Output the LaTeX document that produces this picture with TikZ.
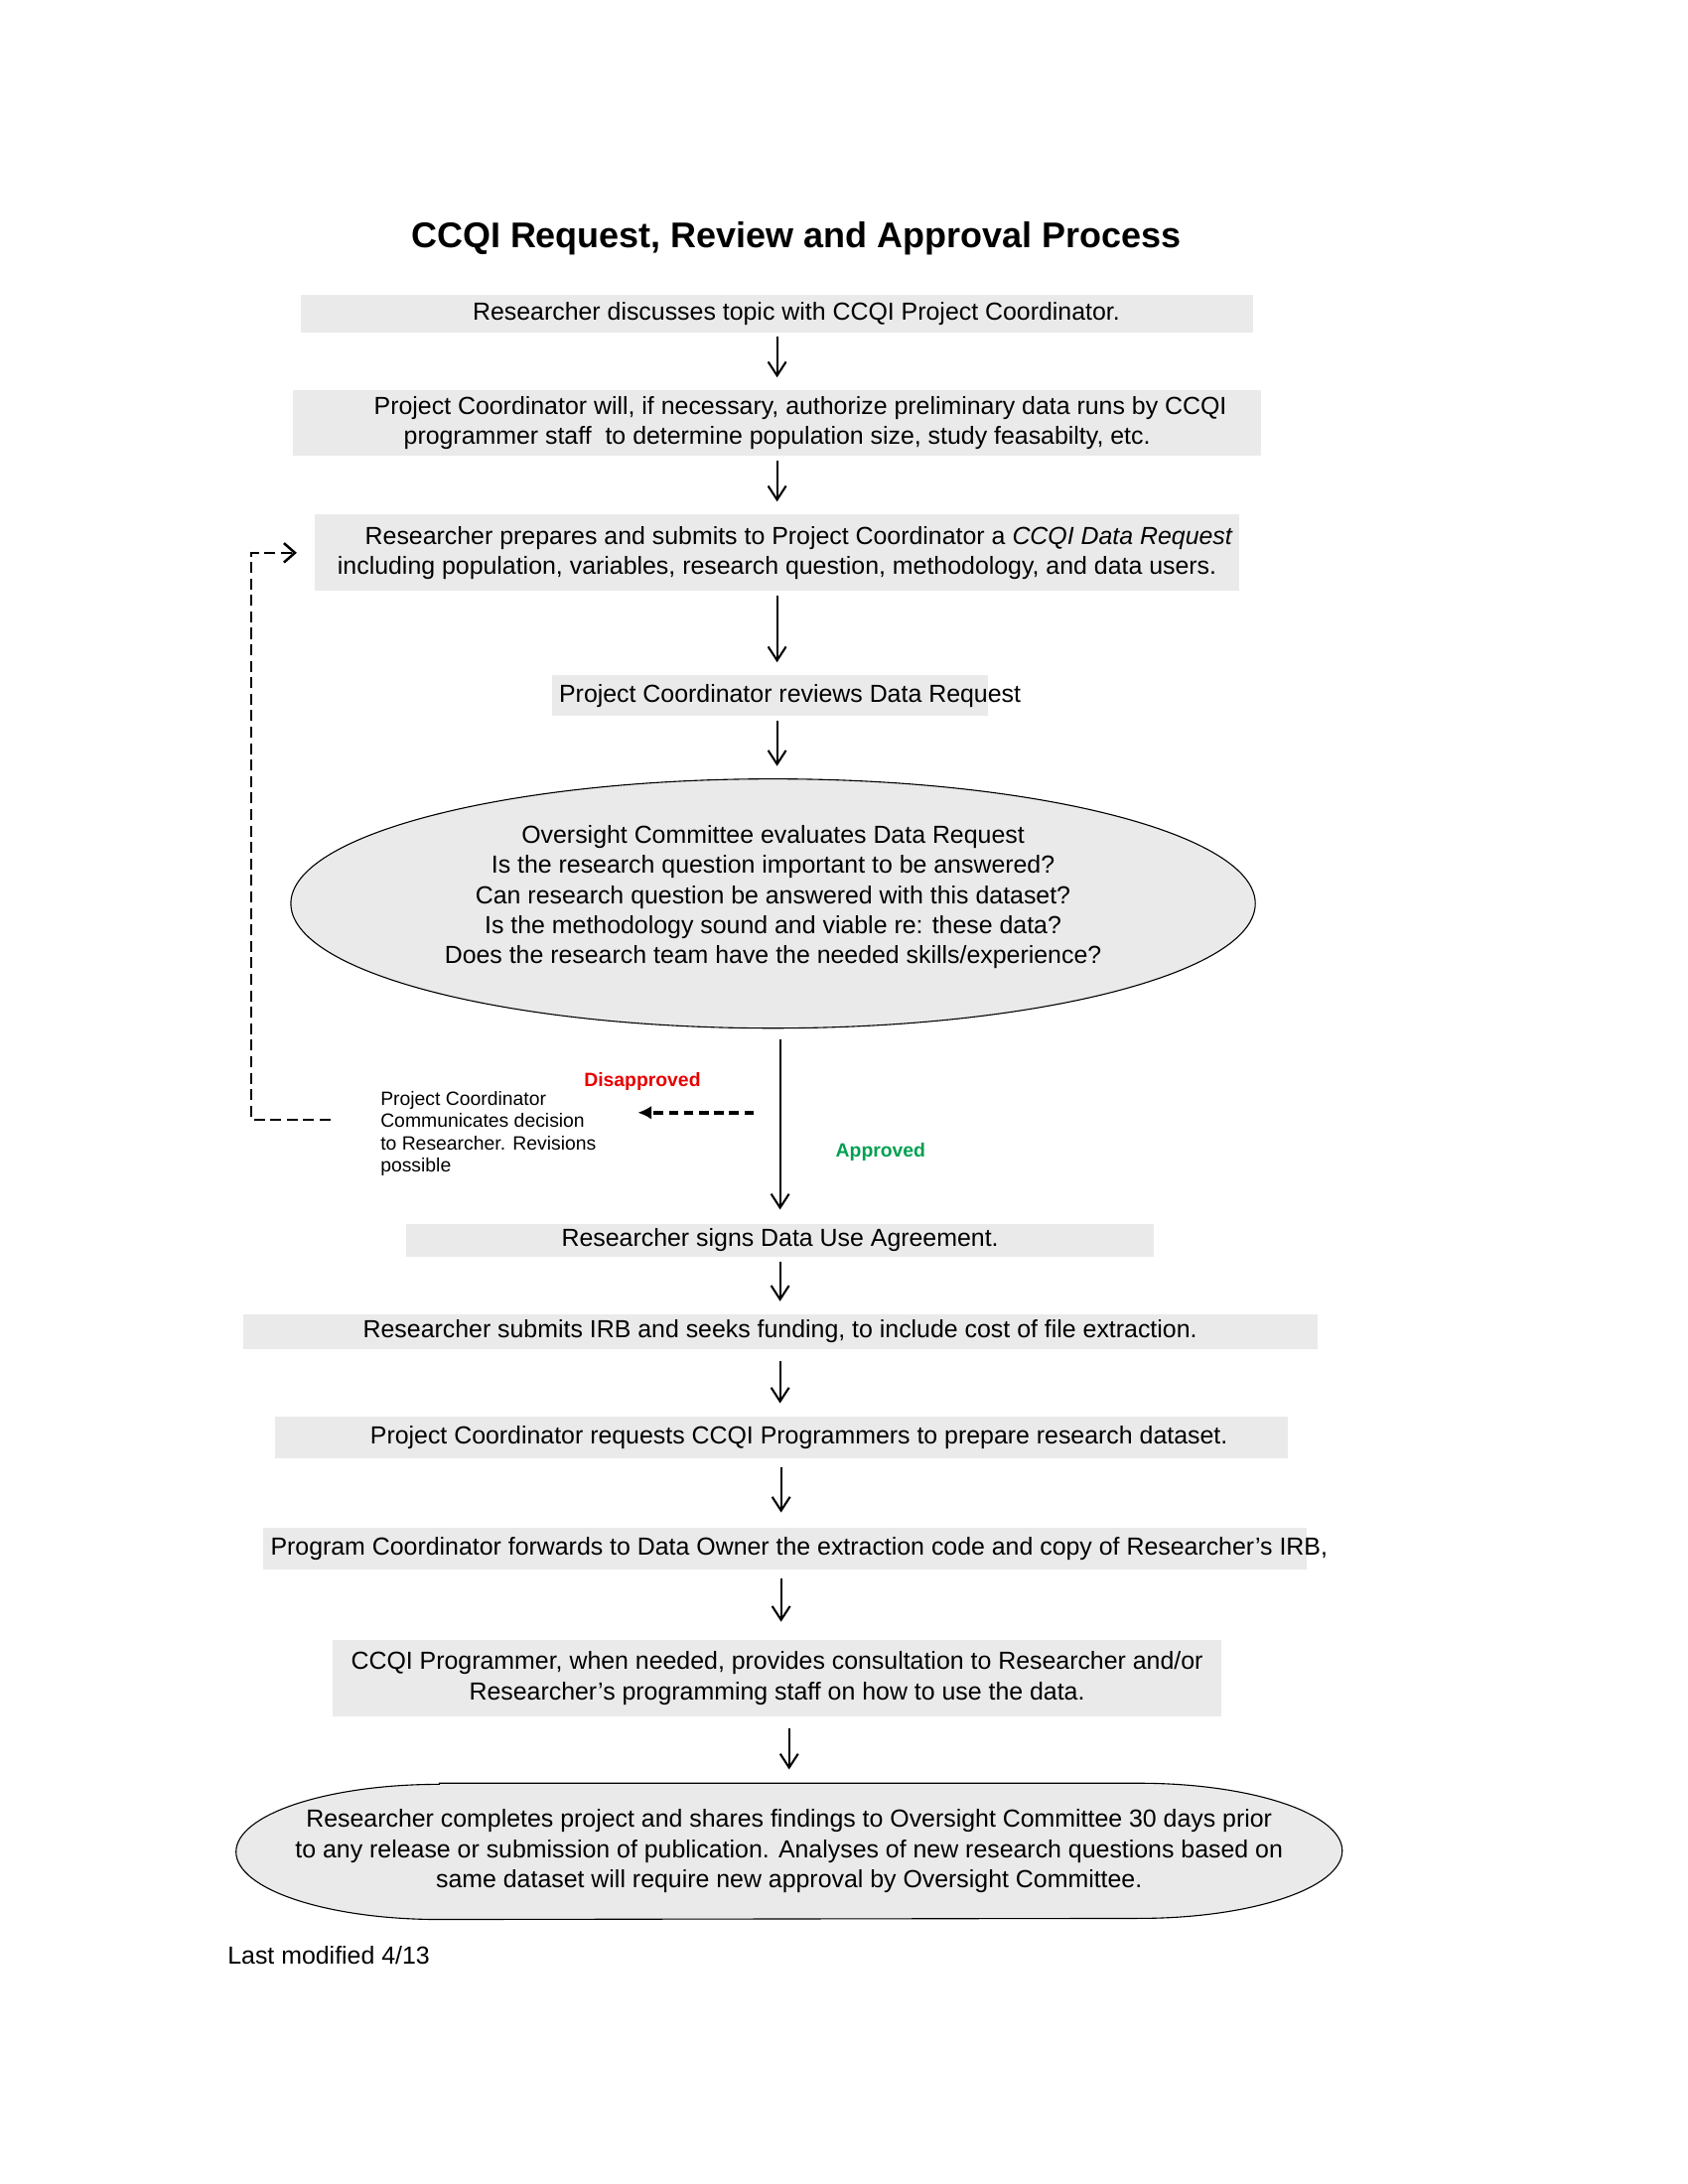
\documentclass[tikz,border=0pt]{standalone}
\usepackage{fontspec}
\setmainfont{Liberation Sans}
\usepackage{xcolor}
\usetikzlibrary{shapes.geometric, arrows.meta, backgrounds}
\definecolor{boxgray}{RGB}{234,234,234}
\definecolor{nored}{RGB}{230,0,0}
\definecolor{okgreen}{RGB}{0,160,80}
\tikzset{
  stepbox/.style={fill=boxgray, inner sep=0pt, align=center, font=\fontsize{9}{11}\selectfont},
  ovalbox/.style={ellipse, draw, line width=0.4pt, fill=boxgray, inner sep=0pt, font=\fontsize{9}{11}\selectfont},
  flow/.style={line width=0.75pt, -{Straight Barb[length=5pt,width=6.5pt]}, shorten <=1.5pt, shorten >=4.5pt},
  back/.style={line width=0.9pt, dash pattern=on 4pt off 2pt}
}
% text of an oval, kept out of the size of the shape
\newcommand{\ovaltext}[2][0pt]{\makebox[0pt]{\smash{\raisebox{#1}{\begin{tabular}{@{}c@{}}#2\end{tabular}}}}}
\begin{document}
\begin{tikzpicture}[x=0.012859cm, y=-0.012859cm]
    \useasboundingbox (0,0) rectangle (1679,2173);
    \node[font=\fontsize{13}{15}\selectfont\bfseries] (title) at (792,237) {CCQI Request, Review and Approval Process};
    % steps
    \node[stepbox, minimum width=12.19cm, minimum height=0.48cm] (b1) at (773,312) {\hspace*{14pt}Researcher discusses topic with CCQI Project Coordinator.};
    \node[stepbox, minimum width=12.39cm, minimum height=0.84cm] (b2) at (773,421) {\hspace*{17pt}Project Coordinator will, if necessary, authorize preliminary data runs by CCQI\\programmer staff\ \ to determine population size, study feasabilty, etc.};
    \node[stepbox, minimum width=11.82cm, minimum height=0.98cm] (b3) at (773,550) {\hspace*{16pt}Researcher prepares and submits to Project Coordinator a \textit{CCQI Data Request}\\including population, variables, research question, methodology, and data users.};
    \node[stepbox, minimum height=0.52cm] (b4) at (766,692) {\makebox[5.58cm][l]{\hspace*{2.6pt}Project Coordinator reviews Data Request}};
    \node[ovalbox, minimum width=12.34cm, minimum height=3.19cm] (e1) at (769,899) {\ovaltext{Oversight Committee evaluates Data Request\\Is the research question important to be answered?\\Can research question be answered with this dataset?\\Is the methodology sound and viable re: these data?\\Does the research team have the needed skills/experience?}};
    \node[stepbox, minimum width=9.56cm, minimum height=0.42cm] (b6) at (776,1234) {Researcher signs Data Use Agreement.};
    \node[stepbox, minimum width=13.75cm, minimum height=0.45cm] (b7) at (776,1325) {Researcher submits IRB and seeks funding, to include cost of file extraction.};
    \node[stepbox, minimum width=12.96cm, minimum height=0.54cm] (b8) at (777,1430) {\hspace*{13pt}Project Coordinator requests CCQI Programmers to prepare research dataset.};
    \node[stepbox, minimum height=0.53cm] (b9) at (781,1541) {\makebox[13.35cm][l]{\hspace*{2.6pt}Program Coordinator forwards to Data Owner the extraction code and copy of Researcher’s IRB,}};
    \node[stepbox, minimum width=11.37cm, minimum height=0.98cm] (b10) at (773,1670) {CCQI Programmer, when needed, provides consultation to Researcher and/or\\Researcher’s programming staff on how to use the data.};
    \node[stepbox, fill=none, minimum width=14.14cm, minimum height=1.73cm] (e2) at (785,1842) {Researcher completes project and shares findings to Oversight Committee 30 days prior\\to any release or submission of publication. Analyses of new research questions based on\\same dataset will require new approval by Oversight Committee.};
    \begin{scope}[on background layer]
      % flat-topped oval behind the last step
      \draw[line width=0.4pt, fill=boxgray] ([xshift=2.6cm]e2.north west) -- ([xshift=-2.6cm]e2.north east)
        arc[start angle=90, end angle=-90, x radius=2.6cm, y radius=0.865cm] -- ([xshift=2.6cm]e2.south west)
        arc[start angle=270, end angle=90, x radius=2.6cm, y radius=0.865cm] -- cycle;
    \end{scope}
    \node[anchor=west, inner sep=0pt, font=\fontsize{9}{11}\selectfont] (footer) at (226,1945) {Last modified 4/13};
    % decision
    \node[anchor=west, inner sep=0pt, align=left, font=\fontsize{7}{8}\selectfont] (note) at (378,1128) {Project Coordinator\\Communicates decision\\to Researcher. Revisions\\possible};
    \node[inner sep=0pt, text=nored, font=\fontsize{7}{8}\selectfont\bfseries] (no) at (639,1076) {Disapproved};
    \node[inner sep=0pt, text=okgreen, font=\fontsize{7}{8}\selectfont\bfseries] (yes) at (876,1146) {Approved};
    \coordinate (split) at (750,1107);
    \coordinate (loopstart) at (329,1114);
    \coordinate (loopcorner) at (250,1114);
    % arrows
    \draw[flow] (b1.south) -- (b1.south |- b2.north);
    \draw[flow] (b2.south) -- (b2.south |- b3.north);
    \draw[flow] (b3.south) -- (b3.south |- b4.north);
    \draw[flow] (b3.south |- b4.south) -- (b3.south |- e1.north);
    \draw[flow, shorten <=4pt, shorten >=5pt] (e1.south -| b6.north) -- (b6.north);
    \draw[flow] (b6.south) -- (b6.south |- b7.north);
    \draw[flow, shorten <=4pt] (b7.south) -- (b7.south |- b8.north);
    \draw[flow, shorten <=3pt, shorten >=5.5pt] (b8.south) -- (b8.south |- b9.north);
    \draw[flow, shorten <=3pt, shorten >=6.5pt] (b8.south |- b9.south) -- (b8.south |- b10.north);
    \draw[flow, shorten <=4pt, shorten >=5pt] (b10.south -| e2.north) -- (e2.north);
    \draw[line width=1.3pt, dash pattern=on 3.5pt off 2pt, -{Latex[length=5pt,width=5pt]}, shorten >=15pt] (split) -- (split -| note.east);
    \draw[back, -{Straight Barb[length=4pt,width=7pt]}, shorten >=6.5pt] (loopstart) -- (loopcorner) |- (b3.west);
\end{tikzpicture}
\end{document}
